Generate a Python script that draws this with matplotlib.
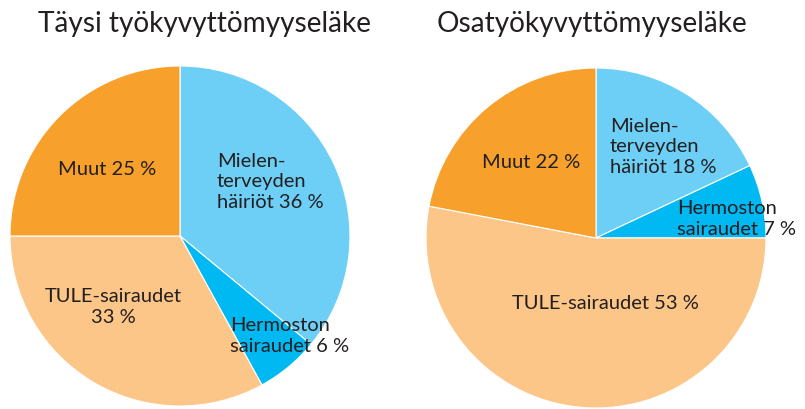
import matplotlib.pyplot as plt

# Data
titles = ["Täysi työkyvyttömyyseläke", "Osatyökyvyttömyyseläke"]
categories = ["Mielenterveyden häiriöt", "Hermoston sairaudet", "TULE-sairaudet", "Muut"]
full_pension = [36, 6, 33, 25]
partial_pension = [18, 7, 53, 22]
colors = ["#6DCFF6", "#00B9F2", "#FDC689", "#F7A02C"]

plt.rcParams["font.family"] = ["Lato", "DejaVu Sans"]
text_color = "#231F20"

W, H = 805, 410
fig = plt.figure(figsize=(W / 100, H / 100), dpi=100)
ax = fig.add_axes([0, 0, 1, 1])

# y axis runs downwards, so start at -90 (visually up) and go visually clockwise
wp = dict(edgecolor="white", linewidth=0.8)
for vals, cx, cy in [(full_pension, 180, 237), (partial_pension, 596, 239)]:
    ax.pie(vals, colors=colors, startangle=-90, counterclock=True,
           center=(cx, cy), radius=170, wedgeprops=wp, frame=True)

ax.set_xlim(0, W)
ax.set_ylim(H, 0)
ax.set_aspect("equal")
ax.axis("off")

fs_title = 20.2
fs = 14.5
ax.text(204, 32, titles[0], ha="center", va="baseline", fontsize=fs_title, color=text_color)
ax.text(592, 32, titles[1], ha="center", va="baseline", fontsize=fs_title, color=text_color)

def label(x, y, s, ha="left"):
    ax.text(x, y, s, ha=ha, va="baseline", fontsize=fs, color=text_color, linespacing=1.25)

# left pie
label(217, 208, "Mielen-\nterveyden\nhäiriöt %d %%" % full_pension[0])
label(107, 175, "Muut %d %%" % full_pension[3], ha="center")
label(113, 323, "TULE-sairaudet\n%d %%" % full_pension[2], ha="center")
label(230, 352, "Hermoston\nsairaudet %d %%" % full_pension[1])

# right pie
label(610, 173, "Mielen-\nterveyden\nhäiriöt %d %%" % partial_pension[0])
label(531, 168, "Muut %d %%" % partial_pension[3], ha="center")
label(677, 235, "Hermoston\nsairaudet %d %%" % partial_pension[1])
label(605, 309, "TULE-sairaudet %d %%" % partial_pension[2], ha="center")

fig.savefig("out.png", dpi=100)
